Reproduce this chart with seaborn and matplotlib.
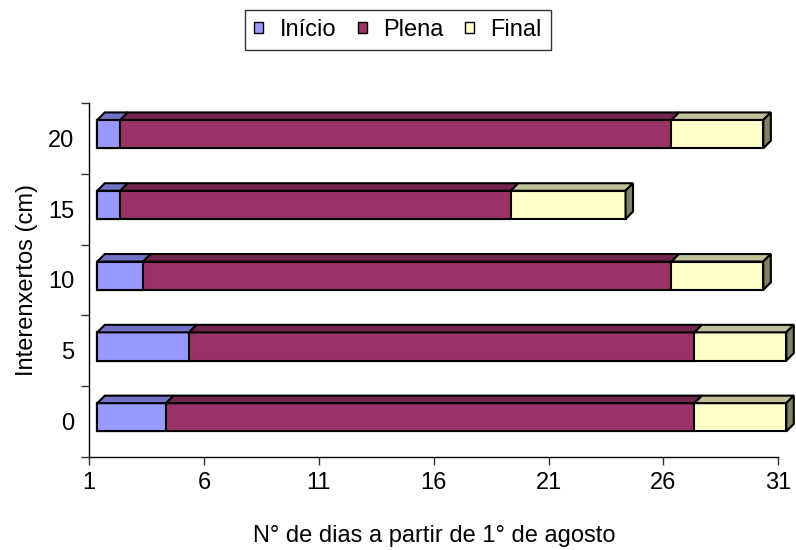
import numpy as np
import pandas as pd
import matplotlib
matplotlib.use("Agg")
import matplotlib.pyplot as plt
import seaborn as sns
from matplotlib.patches import Polygon, Patch
from matplotlib import transforms as mtransforms

# Interenxerto lengths (cm), listed top to bottom
categorias = ["20", "15", "10", "5", "0"]
# Duration (days) of each flowering phase, counted from 1 August
inicio = [1, 1, 2, 4, 3]
plena = [24, 17, 23, 22, 23]
final = [4, 5, 4, 4, 4]
fases = ["Início", "Plena", "Final"]
ticks_dia = [1, 6, 11, 16, 21, 26, 31]

cores_frente = ["#9999FF", "#993366", "#FFFFCC"]
cores_topo = ["#7373C6", "#73264D", "#C0C09A"]
cor_lateral = "#808066"

sns.set_theme(style="white")
plt.rcParams["font.family"] = ["Liberation Sans", "DejaVu Sans"]
plt.rcParams["text.color"] = "black"
plt.rcParams["axes.labelcolor"] = "black"
FS = 17

fig = plt.figure(figsize=(7.96, 5.5), dpi=100)
ax = fig.add_axes([89.3 / 796, 1 - 457 / 550, (778.3 - 89.3) / 796, (457 - 103) / 550])

df = pd.DataFrame({"cat": categorias, "inicio": inicio, "plena": plena, "final": final})
df["fim_inicio"] = df["inicio"]
df["fim_plena"] = df["inicio"] + df["plena"]
df["fim_final"] = df["fim_plena"] + df["final"]

largura = 0.4
# stacked front faces: longest total first, shorter ones on top
for col, cor in zip(["fim_final", "fim_plena", "fim_inicio"], cores_frente[::-1]):
    sns.barplot(data=df, x=col, y="cat", order=categorias, orient="h",
                width=largura, color=cor, saturation=1,
                edgecolor="black", linewidth=1.5, ax=ax)

ax.set_xlim(0, ticks_dia[-1] - ticks_dia[0])
ax.set_ylim(len(categorias) - 0.5, -0.5)

# bars sit slightly in from the axes (3D depth projection)
frente = ax.transData + mtransforms.ScaledTranslation(8 / 100, 4.3 / 100, fig.dpi_scale_trans)
for p in ax.patches:
    p.set_transform(frente)
    p.set_clip_on(False)

# depth of the 3D boxes, in data units
px_x = ax.bbox.width / (ax.get_xlim()[1] - ax.get_xlim()[0])
px_y = ax.bbox.height / len(categorias)
ddx = 7.5 / px_x
ddy = -7.5 / px_y

inicios = np.zeros(len(categorias))
limites = [inicios, df["fim_inicio"].values, df["fim_plena"].values, df["fim_final"].values]
for i in range(len(categorias)):
    yt = i - largura / 2
    yb = i + largura / 2
    for k in range(3):
        a, b = limites[k][i], limites[k + 1][i]
        topo = Polygon([(a, yt), (b, yt), (b + ddx, yt + ddy), (a + ddx, yt + ddy)],
                       closed=True, facecolor=cores_topo[k], edgecolor="black",
                       linewidth=1.5, transform=frente, clip_on=False, zorder=3)
        ax.add_patch(topo)
    c = limites[3][i]
    lado = Polygon([(c, yt), (c + ddx, yt + ddy), (c + ddx, yb + ddy), (c, yb)],
                   closed=True, facecolor=cor_lateral, edgecolor="black",
                   linewidth=1.5, transform=frente, clip_on=False, zorder=3)
    ax.add_patch(lado)

# axes, ticks and labels
ax.set_xticks([d - ticks_dia[0] for d in ticks_dia], labels=[str(d) for d in ticks_dia])
ax.set_yticks(np.arange(-0.5, len(categorias), 1), labels=[""] * (len(categorias) + 1))
ax.set_yticks(range(len(categorias)), labels=categorias, minor=True)
ax.tick_params(axis="both", which="major", bottom=True, left=True, length=6,
               width=1, color="#333333", labelcolor="black", direction="out",
               labelsize=FS, pad=5)
ax.tick_params(axis="y", which="minor", left=True, length=0, labelsize=FS,
               labelcolor="black", pad=11)

for s in ["top", "right"]:
    ax.spines[s].set_visible(False)
for s in ["left", "bottom"]:
    ax.spines[s].set_color("black")
    ax.spines[s].set_linewidth(1)

ax.set_xlabel("N° de dias a partir de 1° de agosto", fontsize=FS, labelpad=22)
ax.set_ylabel("Interenxertos (cm)", fontsize=FS, labelpad=7)

alcas = [Patch(facecolor=c, edgecolor="black", linewidth=1) for c in cores_frente]
leg = fig.legend(alcas, fases, loc="center", bbox_to_anchor=(0.5, 1 - 30 / 550),
                 ncol=3, fontsize=FS, frameon=True, fancybox=False,
                 edgecolor="black", handlelength=0.38, handleheight=0.38,
                 handletextpad=0.7, columnspacing=0.9, borderpad=0.4)
leg.get_frame().set_linewidth(1)

fig.savefig("out.png", dpi=100, facecolor="white")
